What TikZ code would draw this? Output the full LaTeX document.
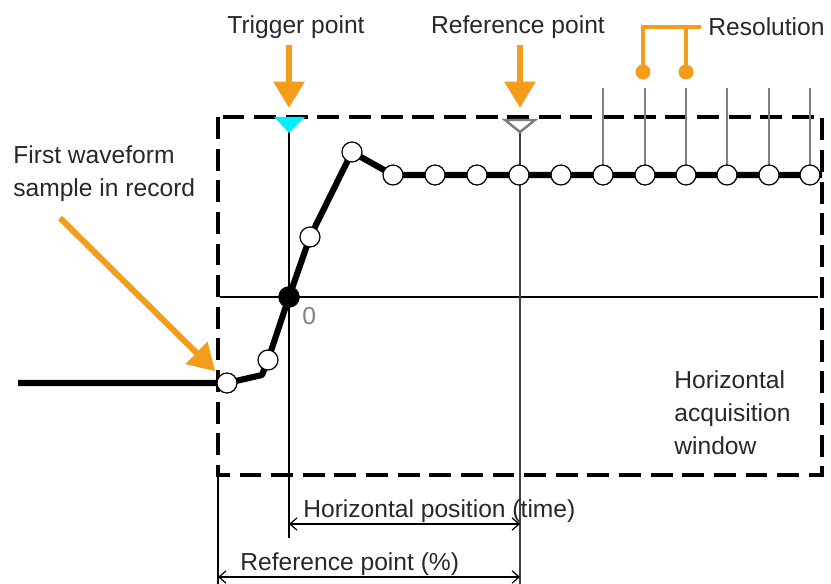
\documentclass[tikz,border=0pt]{standalone}
\usepackage{fontspec}
\setmainfont{Liberation Sans}
\usetikzlibrary{arrows.meta}
\definecolor{arrorange}{RGB}{244,156,28}
\definecolor{txtgray}{RGB}{40,40,40}
\definecolor{trigcyan}{RGB}{0,240,250}
\tikzset{
  lbl/.style={font=\fontsize{14}{18.7}\selectfont,text=txtgray},
  sample/.style={circle,draw,fill=white,line width=0.7pt,minimum size=0.4cm,inner sep=0pt},
  bigarrow/.style={arrorange,line width=3.4pt,-{Triangle[width=17pt,length=15pt]}},
  dimarrow/.style={line width=0.7pt,{Straight Barb[length=4pt,width=7pt]}-{Straight Barb[length=4pt,width=7pt]}},
  wave/.style={line width=3.5pt,line join=round},
  acqframe/.style={line width=2.2pt,dash pattern=on 12.5pt off 5.5pt},
  resdot/.style={circle,fill=arrorange,minimum size=0.3cm,inner sep=0pt},
}
\begin{document}
\begin{tikzpicture}[x=0.02cm,y=-0.02cm]
\useasboundingbox (0,0) rectangle (831,584);
% Erfassungsfenster und Achsen
\draw[acqframe] (218,117) rectangle (822,475);
\draw[line width=0.7pt] (220,297) -- (818,297);
\draw[line width=0.7pt] (289,117) -- (289,538);
\draw[line width=0.7pt,black!75] (520,131) -- (520,584);
\draw[line width=0.7pt] (218,475) -- (218,584);
\foreach \x in {603,645,686,727,769,810}
  \draw[gray,line width=0.6pt] (\x,88) -- (\x,175);
% Marker
\fill[trigcyan] (274,117) -- (305,117) -- (289,133) -- cycle;
\draw[gray,line width=1.4pt] (505,120) -- (535,120) -- (520,132) -- cycle;
% Signal und Abtastwerte
\foreach \i/\x/\y in {1/227/383,2/268/360,3/289/297,4/310/237,5/352/152,6/393/175,
    7/435/175,8/477/175,9/519/175,10/561/175,11/603/175,12/645/175,13/686/175,
    14/727/175,15/769/175,16/810/175}
  \coordinate (p\i) at (\x,\y);
\draw[wave] (18,383) -- (p1) -- (262,375) foreach \i in {2,...,16} { -- (p\i) } -- (822,175);
\foreach \i in {1,...,16}
  \node[sample] (s\i) at (p\i) {};
\node[sample,fill=black] (s3) at (p3) {};
\node[lbl,text=gray,anchor=north west,inner sep=0pt] (zero) at (302,307) {0};
% Beschriftungen
\node[lbl] (trig) at (296,27) {Trigger point};
\node[lbl] (refpt) at (518,27) {Reference point};
\node[lbl,anchor=west,inner sep=0pt] (res) at (708,27) {Resolution};
\node[lbl,anchor=west,inner sep=0pt,align=left] (first) at (13,174) {First waveform\\sample in record};
\node[lbl,anchor=west,inner sep=0pt,align=left] (acq) at (674,413) {Horizontal\\acquisition\\window};
% Pfeile
\coordinate (ttip) at (289,108);
\coordinate (rtip) at (520,108);
\coordinate (ftail) at (60,218);
\draw[bigarrow] (trig.south -| ttip) -- (ttip);
\draw[bigarrow] (refpt.south -| rtip) -- (rtip);
\draw[bigarrow,shorten >=0.12cm] (ftail) -- (s1);
% Aufloesung
\node[resdot] (r1) at (643,72) {};
\node[resdot] (r2) at (686,72) {};
\draw[arrorange,line width=2.3pt] (r1.center) |- ([xshift=-4pt]res.west);
\draw[arrorange,line width=2.3pt] (r2.center) -- (r2.center |- res.west);
% Bemassung
\coordinate (hp1) at (289,524);
\coordinate (hp2) at (520,524);
\coordinate (rp1) at (218,577);
\coordinate (rp2) at (520,577);
\draw[dimarrow] (hp1) -- (hp2);
\draw[dimarrow] (rp1) -- (rp2);
\node[lbl,anchor=base west,inner sep=0pt] (hpos) at (303,517) {Horizontal position (time)};
\node[lbl,anchor=base west,inner sep=0pt] (rpct) at (240,570) {Reference point (\%)};
\end{tikzpicture}
\end{document}
